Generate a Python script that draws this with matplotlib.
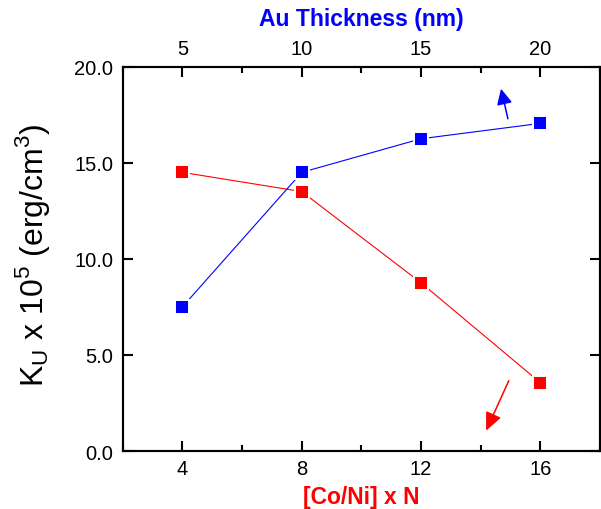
import matplotlib
matplotlib.use("Agg")
import matplotlib.pyplot as plt
from matplotlib.ticker import MultipleLocator

plt.rcParams['font.family'] = ['Liberation Sans', 'DejaVu Sans']
plt.rcParams['mathtext.fontset'] = 'custom'
plt.rcParams['mathtext.rm'] = 'Liberation Sans'

# Data
n_layers = [4, 8, 12, 16]              # [Co/Ni] x N (bottom axis)
au_thickness = [5, 10, 15, 20]         # Au thickness, nm (top axis)
ku_au = [7.5, 14.5, 16.25, 17.05]      # blue series (vs Au thickness)
ku_coni = [14.5, 13.5, 8.75, 3.55]     # red series (vs [Co/Ni] x N)
bottom_ticks = [4, 8, 12, 16]
top_ticks = [5, 10, 15, 20]
y_ticks = [0, 5, 10, 15, 20]

BLUE = '#0000ff'
RED = '#ff0000'

fig = plt.figure(figsize=(6.01, 5.10), dpi=100)
ax = fig.add_axes([0.2042, 0.1137, 0.7943, 0.7536])
ax2 = ax.twiny()

ax.set_xlim(2, 18)
ax.set_ylim(0, 20)
ax2.set_xlim(2.5, 22.5)

# red series on bottom axis, drawn on ax; blue on top axis (ax2)
ax2.plot(au_thickness, ku_au, color=BLUE, lw=0.8, marker='s', ms=9.8,
         mfc=BLUE, mec='white', mew=1.4, zorder=3)
ax.plot(n_layers, ku_coni, color=RED, lw=0.8, marker='s', ms=9.8,
        mfc=RED, mec='white', mew=1.4, zorder=3)

ax.set_xticks(bottom_ticks)
ax.xaxis.set_minor_locator(MultipleLocator(2))
ax.set_yticks(y_ticks)
ax.set_yticklabels([f'{v:.1f}' for v in y_ticks])
ax2.set_xticks(top_ticks)
ax2.xaxis.set_minor_locator(MultipleLocator(2.5))

for a in (ax, ax2):
    for s in a.spines.values():
        s.set_linewidth(1.5)

ax.tick_params(axis='x', which='major', direction='in', length=7, width=1.5,
               labelsize=14.5, pad=5.5)
ax.tick_params(axis='y', which='major', direction='in', length=7, width=1.5,
               labelsize=14.5, pad=7, right=True)
ax.tick_params(axis='both', which='minor', direction='in', length=4, width=1.5)
ax.tick_params(axis='y', which='minor', left=False, right=False)
ax2.tick_params(axis='x', which='major', direction='in', length=7, width=1.5,
                labelsize=14.5, pad=6.5)
ax2.tick_params(axis='x', which='minor', direction='in', length=4, width=1.5)

ax.set_xlabel('[Co/Ni] x N', color=RED, fontsize=16.5, fontweight='bold')
ax.xaxis.set_label_coords(0.5, -0.1195)
ax.xaxis.label.set_verticalalignment('center')

ax2.set_xlabel('Au Thickness (nm)', color=BLUE, fontsize=16.5,
               fontweight='bold')
ax2.xaxis.set_label_coords(0.5, 1.125)
ax2.xaxis.label.set_verticalalignment('center')

ax.set_ylabel(r'K$_\mathregular{U}$ x 10$^\mathregular{5}$ (erg/cm$^\mathregular{3}$)',
              fontsize=23)
ax.yaxis.set_label_coords(-0.188, 0.511)
ax.yaxis.label.set_verticalalignment('center')

# Direction arrows
ax.annotate('', xy=(14.68, 18.85), xytext=(14.91, 17.29),
            arrowprops=dict(arrowstyle='-|>,head_length=0.95,head_width=0.47',
                            color=BLUE, lw=1.1, shrinkA=0, shrinkB=0))
ax.annotate('', xy=(14.18, 1.06), xytext=(14.94, 3.66),
            arrowprops=dict(arrowstyle='-|>,head_length=1.1,head_width=0.5',
                            color=RED, lw=1.1, shrinkA=0, shrinkB=0))

fig.savefig('out.png', dpi=100)
